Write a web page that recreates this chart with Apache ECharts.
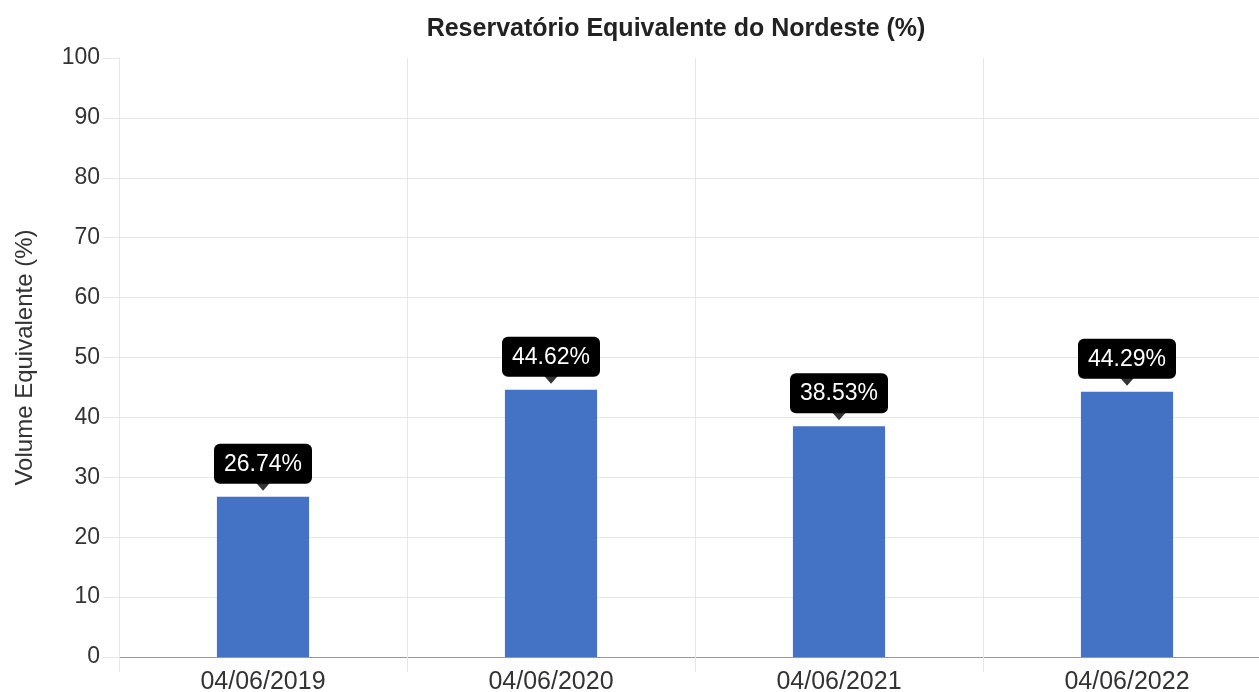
<!DOCTYPE html>
<html><head><meta charset="utf-8">
<script src="https://cdn.jsdelivr.net/npm/echarts@6/dist/echarts.min.js"></script>
<style>html,body{margin:0;padding:0;background:#fff;overflow:hidden;width:1259px;height:692px}#c{width:1271px;height:692px}</style>
</head><body><div id="c"></div>
<script>
const categories = ['04/06/2019','04/06/2020','04/06/2021','04/06/2022'];
const values = [26.74, 44.62, 38.53, 44.29];
const yTicks = [0,10,20,30,40,50,60,70,80,90,100];
const titleText = 'Reservatório Equivalente do Nordeste (%)';
const yName = 'Volume Equivalente (%)';

const font = '"Liberation Sans", Arial, sans-serif';
const chart = echarts.init(document.getElementById('c'), null, {renderer:'canvas'});
const splitColors = yTicks.map((t,i)=> i===yTicks.length-1 ? 'rgba(0,0,0,0)' : '#e6e6e6');
chart.setOption({
  animation:false,
  title:{text:titleText,left:671,textAlign:'center',top:12,textStyle:{fontFamily:font,fontSize:25,fontWeight:'bold',color:'#222'}},
  grid:{left:119,right:0,top:58,bottom:35,containLabel:false,outerBoundsMode:'none'},
  xAxis:{type:'category',data:categories,
    axisLine:{lineStyle:{color:'#999',width:1}},
    axisTick:{show:true,length:15,lineStyle:{color:'#e6e6e6'}},
    splitLine:{show:true,lineStyle:{color:'#e6e6e6'}},
    axisLabel:{fontFamily:font,fontSize:25,lineHeight:18,color:'#333',margin:16}},
  yAxis:{type:'value',min:0,max:100,interval:10,
    name:yName,nameLocation:'middle',nameGap:82,nameRotate:90,
    nameTextStyle:{fontFamily:font,fontSize:24,color:'#333'},
    axisLine:{show:true,lineStyle:{color:'#e6e6e6'}},
    axisTick:{show:true,length:16,lineStyle:{color:'#e6e6e6'}},
    splitLine:{show:true,lineStyle:{color:splitColors}},
    axisLabel:{fontFamily:font,fontSize:23,color:'#333',margin:19,
      formatter:v=>yTicks.includes(v)?String(v):''}},
  series:[
    {type:'bar',data:values,barWidth:'32%',itemStyle:{color:'#4472C4'},
      label:{show:true,position:'top',distance:13,formatter:p=>p.value.toFixed(2)+'%',
        fontFamily:font,fontSize:23,color:'#fff',backgroundColor:'#000',borderRadius:6,
        padding:[9,10,8,10]}},
    {type:'scatter',data:values,symbol:'triangle',symbolRotate:180,symbolSize:[14,8],
      symbolOffset:[0,-10],itemStyle:{color:'#000'},silent:true,z:5}
  ]
});
</script></body></html>
